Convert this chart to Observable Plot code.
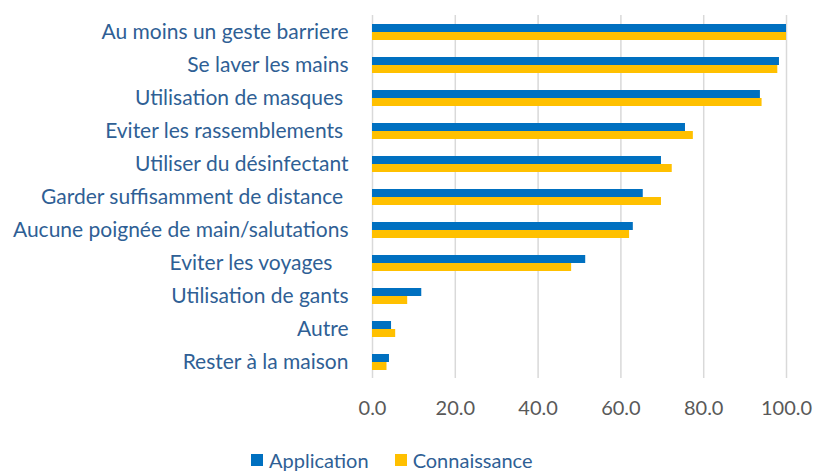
<!DOCTYPE html>
<html>
<head>
<meta charset="utf-8">
<script src="https://cdn.jsdelivr.net/npm/d3@7"></script>
<script src="https://cdn.jsdelivr.net/npm/@observablehq/plot@0.6"></script>
<style>
  body { margin: 0; background: #fff; font-family: Lato, "Open Sans", sans-serif; }
  svg text { white-space: pre; }
  #legend { display: flex; align-items: center; margin-left: 251px; margin-top: 9px; height: 22px; font-size: 20px; line-height: 22px; color: #2F5F95; }
  #legend .sw { width: 12px; height: 12px; display: inline-block; margin-right: 6px; }
  #legend .item { display: flex; align-items: center; margin-right: 26px; }
</style>
</head>
<body>
<div id="chart"></div>
<script>
const categories = [
  "Au moins un geste barriere",
  "Se laver les mains",
  "Utilisation de masques ",
  "Eviter les rassemblements ",
  "Utiliser du désinfectant",
  "Garder suffisamment de distance ",
  "Aucune poignée de main/salutations",
  "Eviter les voyages   ",
  "Utilisation de gants",
  "Autre",
  "Rester à la maison"
];
const series = ["Application", "Connaissance"];
const application = [100, 98.3, 93.7, 75.6, 69.8, 65.4, 63.0, 51.5, 11.9, 4.6, 4.1];
const connaissance = [100, 97.9, 94.1, 77.5, 72.4, 69.8, 62.1, 48.1, 8.5, 5.6, 3.5];
const xTicks = [0, 20, 40, 60, 80, 100];
const colors = ["#0070C0", "#FFC000"];

const data = categories.flatMap((c, i) => [
  {category: c, series: series[0], value: application[i]},
  {category: c, series: series[1], value: connaissance[i]}
]);

const chart = Plot.plot({
  width: 817,
  height: 440,
  marginLeft: 372,
  marginRight: 31,
  marginTop: 14,
  marginBottom: 61,
  style: {fontFamily: "Lato, 'Open Sans', sans-serif", background: "#fff"},
  x: {domain: [0, 100]},
  fy: {domain: categories, padding: 0},
  y: {domain: series, paddingInner: 0, paddingOuter: 1, axis: null},
  color: {domain: series, range: colors},
  marks: [
    Plot.ruleX(xTicks, {stroke: "#D9D9D9", strokeWidth: 1.5}),
    Plot.barX(data, {fy: "category", y: "series", x: "value", fill: "series"}),
    Plot.axisFy({anchor: "left", tickSize: 0, tickPadding: 24, fontSize: 21, fill: "#2F5F95", label: null}),
    Plot.axisX(xTicks, {anchor: "bottom", tickSize: 0, tickPadding: 22, fontSize: 20, fill: "#595959", tickFormat: d => d.toFixed(1), label: null})
  ]
});
document.getElementById("chart").appendChild(chart);

const legend = document.createElement("div");
legend.id = "legend";
series.forEach((s, i) => {
  const item = document.createElement("span");
  item.className = "item";
  const sw = document.createElement("span");
  sw.className = "sw";
  sw.style.background = colors[i];
  item.appendChild(sw);
  item.appendChild(document.createTextNode(s));
  legend.appendChild(item);
});
document.body.appendChild(legend);
</script>
</body>
</html>
